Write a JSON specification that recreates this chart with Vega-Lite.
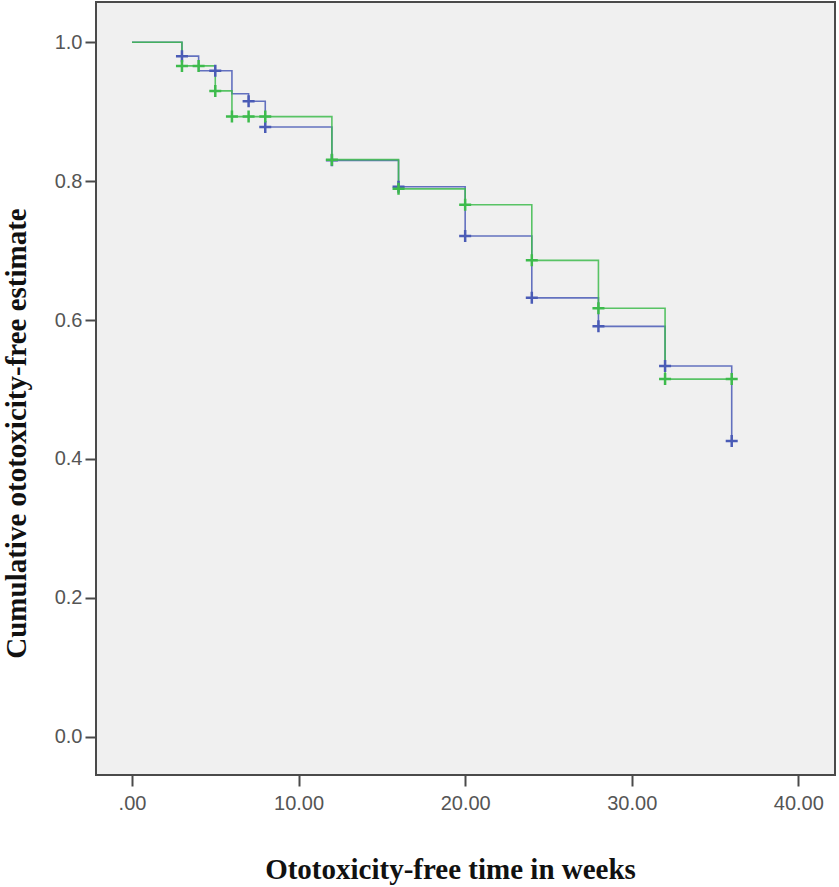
{
  "$schema": "https://vega.github.io/schema/vega-lite/v6.json",
  "autosize": {"type": "none"},
  "padding": {"left": 96, "top": 2, "right": 4, "bottom": 112},
  "width": 739,
  "height": 773,
  "background": "white",
  "config": {
    "view": {"fill": "#f0f0f0", "stroke": "#4a4a4a", "strokeWidth": 2},
    "axis": {
      "domain": false,
      "grid": false,
      "tickColor": "#4a4a4a",
      "tickWidth": 2,
      "tickSize": 11,
      "labelColor": "#555555",
      "labelFont": "Liberation Sans",
      "labelFontSize": 20,
      "titleFont": "Liberation Serif",
      "titleFontWeight": "bold",
      "titleFontSize": 29,
      "titleColor": "#111111"
    }
  },
  "datasets": {
    "curves": [
      {"time": 0, "survival": 1.0, "group": "Blue"},
      {"time": 3, "survival": 0.98, "group": "Blue"},
      {"time": 4, "survival": 0.959, "group": "Blue"},
      {"time": 6, "survival": 0.926, "group": "Blue"},
      {"time": 7, "survival": 0.915, "group": "Blue"},
      {"time": 8, "survival": 0.878, "group": "Blue"},
      {"time": 12, "survival": 0.83, "group": "Blue"},
      {"time": 16, "survival": 0.792, "group": "Blue"},
      {"time": 20, "survival": 0.721, "group": "Blue"},
      {"time": 24, "survival": 0.632, "group": "Blue"},
      {"time": 28, "survival": 0.591, "group": "Blue"},
      {"time": 32, "survival": 0.534, "group": "Blue"},
      {"time": 36, "survival": 0.426, "group": "Blue"},
      {"time": 0, "survival": 1.0, "group": "Green"},
      {"time": 3, "survival": 0.966, "group": "Green"},
      {"time": 5, "survival": 0.93, "group": "Green"},
      {"time": 6, "survival": 0.893, "group": "Green"},
      {"time": 12, "survival": 0.831, "group": "Green"},
      {"time": 16, "survival": 0.789, "group": "Green"},
      {"time": 20, "survival": 0.766, "group": "Green"},
      {"time": 24, "survival": 0.686, "group": "Green"},
      {"time": 28, "survival": 0.617, "group": "Green"},
      {"time": 32, "survival": 0.515, "group": "Green"},
      {"time": 36, "survival": 0.515, "group": "Green"}
    ],
    "censored": [
      {"time": 3, "survival": 0.98, "group": "Blue"},
      {"time": 5, "survival": 0.959, "group": "Blue"},
      {"time": 7, "survival": 0.915, "group": "Blue"},
      {"time": 8, "survival": 0.878, "group": "Blue"},
      {"time": 12, "survival": 0.83, "group": "Blue"},
      {"time": 16, "survival": 0.792, "group": "Blue"},
      {"time": 20, "survival": 0.721, "group": "Blue"},
      {"time": 24, "survival": 0.632, "group": "Blue"},
      {"time": 28, "survival": 0.591, "group": "Blue"},
      {"time": 32, "survival": 0.534, "group": "Blue"},
      {"time": 36, "survival": 0.426, "group": "Blue"},
      {"time": 3, "survival": 0.966, "group": "Green"},
      {"time": 4, "survival": 0.966, "group": "Green"},
      {"time": 5, "survival": 0.93, "group": "Green"},
      {"time": 6, "survival": 0.893, "group": "Green"},
      {"time": 7, "survival": 0.893, "group": "Green"},
      {"time": 8, "survival": 0.893, "group": "Green"},
      {"time": 12, "survival": 0.831, "group": "Green"},
      {"time": 16, "survival": 0.789, "group": "Green"},
      {"time": 20, "survival": 0.766, "group": "Green"},
      {"time": 24, "survival": 0.686, "group": "Green"},
      {"time": 28, "survival": 0.617, "group": "Green"},
      {"time": 32, "survival": 0.515, "group": "Green"},
      {"time": 36, "survival": 0.515, "group": "Green"}
    ]
  },
  "encoding": {
    "x": {
      "field": "time",
      "type": "quantitative",
      "scale": {"domain": [-2.16, 42.2], "nice": false, "zero": false},
      "axis": {
        "values": [0, 10, 20, 30, 40],
        "labelExpr": "datum.value == 0 ? '.00' : format(datum.value, '.2f')",
        "labelPadding": 7,
        "title": "Ototoxicity-free time in weeks",
        "titleX": 354,
        "titleY": 103,
        "titleAlign": "center",
        "titleBaseline": "alphabetic"
      }
    },
    "y": {
      "field": "survival",
      "type": "quantitative",
      "scale": {"domain": [-0.055, 1.058], "nice": false, "zero": false},
      "axis": {
        "values": [0, 0.2, 0.4, 0.6, 0.8, 1.0],
        "format": ".1f",
        "labelPadding": 3,
        "title": "Cumulative ototoxicity-free estimate",
        "titleX": -80,
        "titleY": 431,
        "titleAlign": "center",
        "titleBaseline": "middle",
        "titleAngle": -90
      }
    },
    "color": {
      "field": "group",
      "type": "nominal",
      "scale": {"domain": ["Blue", "Green"], "range": ["#4a5bb6", "#3dbb4c"]},
      "legend": null
    }
  },
  "layer": [
    {
      "data": {"name": "curves"},
      "mark": {"type": "line", "interpolate": "step-after", "strokeWidth": 1.6, "opacity": 0.85}
    },
    {
      "data": {"name": "censored"},
      "mark": {"type": "point", "shape": "M-1,0L1,0M0,-1L0,1", "filled": false, "size": 144, "strokeWidth": 2.5, "opacity": 1}
    }
  ]
}
